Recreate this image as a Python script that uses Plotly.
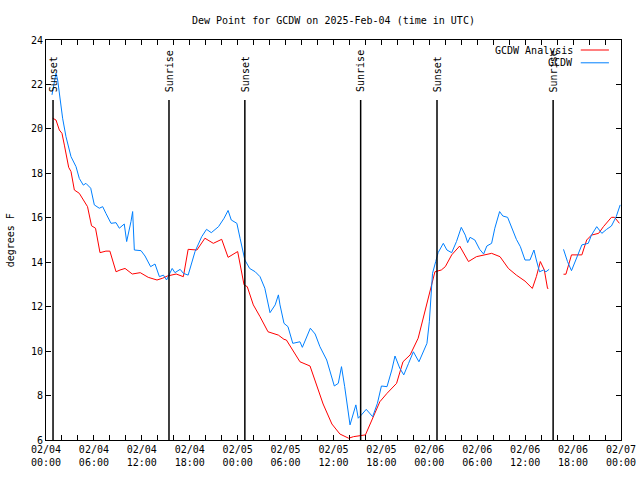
import plotly.graph_objects as go

# hours since 2025-02-04 00:00 UTC
red_h = [0.84,1.25,1.67,2.0,2.3,2.6,2.84,3.13,3.55,4.17,4.8,5.2,5.7,6.2,6.76,7.5,8.0,8.77,9.27,9.9,
         10.8,11.8,12.8,13.9,14.6,15.2,16.3,17.0,17.2,17.8,18.9,19.9,20.95,22.0,22.8,24.0,24.5,24.8,25.2,25.96,
         26.8,27.8,29.1,29.8,30.1,30.97,31.8,33.06,33.9,34.7,35.8,36.8,37.9,38.5,40.0,40.8,41.8,42.7,43.9,44.7,
         45.6,46.6,47.5,48.1,48.7,49.5,50.0,50.8,51.8,52.9,53.9,55.8,56.85,57.9,58.9,59.98,60.9,61.4,61.9,62.4,
         62.8,62.9,63.9,64.8,65.1,65.8,67.1,67.7,68.3,69.2,69.8,70.8,71.2,71.8]
red_v = [20.48,20.4,19.95,19.8,19.27,18.75,18.27,18.08,17.25,17.1,16.72,16.5,15.64,15.53,14.43,14.5,14.5,13.57,13.65,13.72,
         13.47,13.53,13.32,13.2,13.28,13.38,13.47,13.35,13.35,14.58,14.55,15.08,14.85,15.03,14.22,14.48,13.42,12.98,12.9,12.08,
         11.55,10.87,10.72,10.53,10.5,9.97,9.52,9.33,8.4,7.62,6.72,6.27,6.08,6.15,6.23,6.9,7.72,8.1,8.55,9.52,
         9.83,10.58,11.85,12.6,13.57,13.65,13.8,14.33,14.73,14.03,14.25,14.4,14.25,13.72,13.42,13.15,12.82,13.35,14.03,13.65,
         12.82,12.82,None,13.46,13.46,14.33,14.33,15.0,15.22,15.3,15.6,16.02,16.02,15.75]

blue_h = [0.75,1.04,1.25,1.46,1.67,2.08,2.5,3.13,3.76,4.17,4.67,5.0,5.6,6.05,6.67,7.1,7.5,8.14,8.77,9.18,
          9.8,10.1,10.64,10.85,11.06,11.9,12.4,13.1,13.65,14.2,14.7,15.1,15.8,16.15,16.8,17.2,17.8,18.66,19.5,20.1,
          20.7,21.6,22.3,22.8,23.2,23.9,24.3,24.9,25.5,26.2,26.8,27.4,28.05,28.7,29.1,29.3,29.8,30.3,30.9,31.8,
          32.1,33.1,33.7,34.3,35.15,36.1,36.6,37.0,37.4,38.07,38.8,39.1,39.5,40.1,40.9,41.5,42.0,42.7,43.3,43.7,
          44.3,44.8,45.4,46.0,46.7,47.7,48.0,48.4,48.8,49.1,49.75,50.2,50.8,51.4,52.0,52.5,52.8,53.1,53.7,54.3,
          54.8,55.2,55.8,56.2,56.8,57.2,57.8,58.3,58.9,59.4,59.98,60.6,61.1,61.4,61.8,62.3,62.6,63.0,63.9,64.8,
          65.3,65.8,66.4,67.1,67.9,68.3,68.96,69.6,70.2,70.8,71.4,71.9]
blue_v = [21.53,22.05,22.5,22.2,21.6,20.48,19.65,18.75,18.3,17.77,17.47,17.55,17.33,16.58,16.43,16.5,16.2,15.75,15.78,15.53,
          15.72,14.93,15.83,16.28,14.55,14.52,14.28,13.8,13.92,13.35,13.42,13.2,13.72,13.53,13.68,13.5,13.42,14.48,15.15,15.48,
          15.33,15.6,15.98,16.33,15.9,15.75,15.08,14.1,13.72,13.57,13.35,12.83,11.73,12.08,12.53,12.08,11.25,11.1,10.35,10.42,
          10.17,11.03,10.77,10.2,9.6,8.43,8.55,9.3,8.4,6.68,7.58,6.98,7.13,7.38,7.05,7.65,8.43,8.4,9.15,9.78,
          9.23,8.93,9.45,9.97,9.52,10.35,11.32,13.5,14.03,14.43,14.85,14.55,14.43,14.93,15.57,15.22,14.88,15.12,15.0,14.58,
          14.37,14.73,14.85,15.53,16.28,16.08,16.02,15.53,15.03,14.7,14.1,14.1,14.55,14.1,13.57,13.65,13.57,13.68,None,14.58,
          14.03,13.62,14.18,14.78,14.85,15.22,15.6,15.3,15.48,15.63,16.05,16.58]

sun_h = [0.88, 15.4, 24.9, 39.4, 48.96, 63.5]
sun_lbl = ["Sunset", "Sunrise", "Sunset", "Sunrise", "Sunset", "Sunrise"]

tick_h = list(range(0, 73, 2))
day_lbl = {0: "02/04", 24: "02/05", 48: "02/06", 72: "02/07"}

def tick_text(h):
    if h % 6:
        return ""
    d = day_lbl.get(h - h % 24, "")
    return f"{d}<br>{h % 24:02d}:00"

FONT = "DejaVu Sans Mono"
fig = go.Figure()
fig.add_trace(go.Scatter(x=red_h, y=red_v, mode="lines", name="GCDW Analysis",
                         line=dict(color="#ff0000", width=1), connectgaps=False, showlegend=False))
fig.add_trace(go.Scatter(x=blue_h, y=blue_v, mode="lines", name="GCDW",
                         line=dict(color="#0080ff", width=1), connectgaps=False, showlegend=False))

for h, lbl in zip(sun_h, sun_lbl):
    fig.add_shape(type="line", x0=h, x1=h, y0=6, y1=21.3, xref="x", yref="y",
                  line=dict(color="black", width=1.5))
    fig.add_annotation(x=h, y=21.6, xref="x", yref="y", text=lbl, textangle=-90,
                       showarrow=False, yanchor="bottom", xanchor="center",
                       font=dict(family=FONT, size=10, color="black"), borderpad=0)

# legend (text left of sample line, as in reference)
leg = [("GCDW Analysis", "#ff0000", 0.975), ("GCDW", "#0080ff", 0.943)]
for txt, col, yp in leg:
    fig.add_annotation(x=0.919, y=yp, xref="paper", yref="paper", text=txt, showarrow=False,
                       xanchor="right", yanchor="middle", font=dict(family=FONT, size=10, color="black"),
                       borderpad=0)
    fig.add_shape(type="line", x0=0.930, x1=0.979, y0=yp, y1=yp, xref="paper", yref="paper",
                  line=dict(color=col, width=1))

# y-axis title placed like the reference
fig.add_annotation(x=-0.062, y=0.5, xref="paper", yref="paper", text="degrees F", textangle=-90,
                   showarrow=False, xanchor="center", yanchor="middle",
                   font=dict(family=FONT, size=10, color="black"))

fig.update_layout(
    width=640, height=480,
    margin=dict(l=46, r=19, t=40, b=40, autoexpand=False),
    paper_bgcolor="white", plot_bgcolor="white",
    font=dict(family=FONT, size=10, color="black"),
    title=dict(text="Dew Point for GCDW on 2025-Feb-04 (time in UTC)", x=0.521, xanchor="center",
               y=0.958, yanchor="middle", font=dict(family=FONT, size=10, color="black")),
)
fig.update_xaxes(range=[0, 72], tickvals=tick_h, ticktext=[tick_text(h) for h in tick_h],
                 ticks="inside", ticklen=5, tickcolor="black", showgrid=False, zeroline=False,
                 showline=True, linecolor="black", linewidth=1, mirror="ticks", tickangle=0,
                 automargin=False)
fig.update_yaxes(range=[6, 24], dtick=2, ticks="inside", ticklen=5, tickcolor="black",
                 showgrid=False, zeroline=False, showline=True, linecolor="black", linewidth=1,
                 mirror="ticks", automargin=False)

fig.write_html("out.html", config={"displayModeBar": False},
               post_script="document.body.style.margin='0';document.body.style.overflow='hidden';")
